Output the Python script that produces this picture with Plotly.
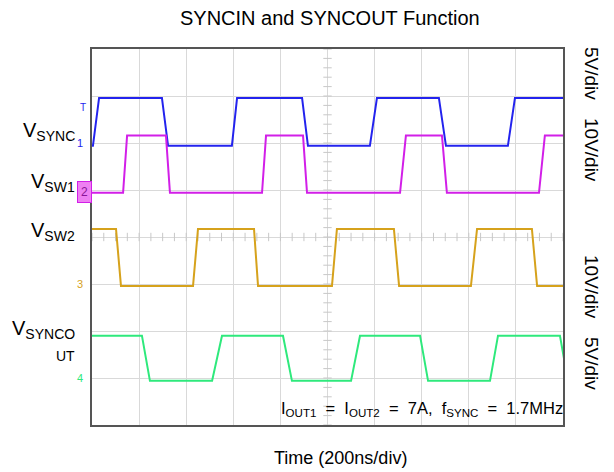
import numpy as np
import plotly.graph_objects as go

# time in ns (200 ns/div, 10 div), levels in volts
vsync_t = [0, 4, 30, 297, 323, 594, 616, 892, 917, 1180, 1210, 1473, 1503, 1766, 1796, 2000]
vsync_v = [-0.3, -0.3, 4.8, 4.8, -0.3, -0.3, 4.8, 4.8, -0.3, -0.3, 4.8, 4.8, -0.3, -0.3, 4.8, 4.8]

vsw1_t = [0, 132, 149, 314, 331, 722, 739, 896, 913, 1308, 1333, 1486, 1507, 1898, 1923, 2000]
vsw1_v = [-0.6, -0.6, 11.6, 11.6, -0.6, -0.6, 11.6, 11.6, -0.6, -0.6, 11.6, 11.6, -0.6, -0.6, 11.6, 11.6]

vsw2_t = [0, 102, 123, 429, 450, 688, 705, 1019, 1040, 1282, 1304, 1609, 1635, 1868, 1890, 2000]
vsw2_v = [11.7, 11.7, -0.4, -0.4, 11.7, 11.7, -0.4, -0.4, 11.7, 11.7, -0.4, -0.4, 11.7, 11.7, -0.4, -0.4]

vsyncout_t = [0, 212, 246, 510, 552, 811, 849, 1100, 1138, 1393, 1427, 1690, 1724, 1987, 2021]
vsyncout_v = [4.5, 4.5, -0.3, -0.3, 4.5, 4.5, -0.3, -0.3, 4.5, 4.5, -0.3, -0.3, 4.5, 4.5, -0.3]

# channel: (name, t, v, volts/div, ground position in div, colour)
channels = [
    ("1", vsync_t, vsync_v, 5, 6, "#2323ee"),
    ("2", vsw1_t, vsw1_v, 10, 5, "#d21fe8"),
    ("3", vsw2_t, vsw2_v, 10, 3, "#d6a21c"),
    ("4", vsyncout_t, vsyncout_v, 5, 1, "#2ee97c"),
]
trigger_t = 607
trigger_v = 2.45

FONT = "Liberation Sans, Arial, sans-serif"

# page body has an 8px margin, so the figure is laid out 8px smaller
OFF = 8
PX_L, PX_T, PX_W, PX_H = 92, 49, 471, 376


def px(xp, yp):
    # window pixel -> paper coords
    return (xp - PX_L) / PX_W, (PX_T + PX_H - yp) / PX_H


fig = go.Figure()

# centre graticule ticks
xt = np.arange(0, 2001, 50)
fig.add_trace(go.Scatter(x=xt, y=[4] * len(xt), mode="markers", hoverinfo="skip",
                         marker=dict(symbol="line-ns", size=6, line=dict(color="#c8c8c8", width=1))))
yt = np.arange(0, 8.01, 0.2)
fig.add_trace(go.Scatter(x=[1000] * len(yt), y=yt, mode="markers", hoverinfo="skip",
                         marker=dict(symbol="line-ew", size=6, line=dict(color="#c8c8c8", width=1))))

for name, t, v, vdiv, gnd, col in channels:
    y = [gnd + val / vdiv for val in v]
    fig.add_trace(go.Scatter(x=t, y=y, mode="lines", line=dict(color=col, width=2)))
    # ground arrow on the left edge
    fig.add_trace(go.Scatter(x=[-12], y=[gnd], mode="markers", cliponaxis=False,
                             marker=dict(symbol="triangle-right", size=7, color=col)))
    if name == "2":
        fig.add_annotation(x=0, y=gnd / 8 - 0.006, xref="paper", yref="paper", text="2",
                           showarrow=False, xanchor="right", yanchor="middle",
                           font=dict(family=FONT, size=12, color="#8a1598"),
                           bgcolor="#ee80f2", bordercolor=col, borderpad=3)
    else:
        fig.add_annotation(x=-0.014, y=gnd / 8, xref="paper", yref="paper", text=name,
                           showarrow=False, xanchor="right", yanchor="middle",
                           font=dict(family=FONT, size=11, color=col))

# trigger level and trigger position markers
fig.add_trace(go.Scatter(x=[-12], y=[6 + trigger_v / 5], mode="markers", cliponaxis=False,
                         marker=dict(symbol="triangle-right", size=7, color="#2323ee")))
fig.add_annotation(x=-0.008, y=6.76 / 8, xref="paper", yref="paper", text="T", showarrow=False,
                   xanchor="right", yanchor="middle", font=dict(family=FONT, size=10, color="#2323ee"))
fig.add_trace(go.Scatter(x=[trigger_t], y=[8.02], mode="markers", cliponaxis=False,
                         marker=dict(symbol="triangle-down", size=9, color="#1f6fe0")))
fig.add_trace(go.Scatter(x=[1000], y=[8.02], mode="markers", cliponaxis=False,
                         marker=dict(symbol="triangle-down-open", size=9, color="#1f6fe0")))

# labels
left_labels = [("V<sub>SYNC</sub>", 132), ("V<sub>SW1</sub>", 182), ("V<sub>SW2</sub>", 231),
               ("V<sub>SYNCO</sub>", 329)]
for txt, ypx in left_labels:
    ax, ay = px(77, ypx)
    fig.add_annotation(x=ax, y=ay, xref="paper", yref="paper", text=txt,
                       showarrow=False, xanchor="right", yanchor="middle",
                       font=dict(family=FONT, size=20, color="black"))
ax, ay = px(77, 356)
fig.add_annotation(x=ax, y=ay, xref="paper", yref="paper", text="UT",
                   showarrow=False, xanchor="right", yanchor="middle",
                   font=dict(family=FONT, size=14, color="black"))

right_labels = [("5V/div", 73), ("10V/div", 150), ("10V/div", 287), ("5V/div", 363)]
for txt, ypx in right_labels:
    ax, ay = px(592, ypx)
    fig.add_annotation(x=ax, y=ay, xref="paper", yref="paper", text=txt,
                       showarrow=False, textangle=90, xanchor="center", yanchor="middle",
                       font=dict(family=FONT, size=19, color="black"))

sp = "\u00a0"
ax, ay = px(565, 409)
fig.add_annotation(x=ax, y=ay, xref="paper", yref="paper",
                   text=f"I<sub>OUT1</sub>{sp}{sp}={sp}{sp}I<sub>OUT2</sub>{sp}{sp}={sp}{sp}7A,{sp}{sp}"
                        f"f<sub>SYNC</sub>{sp}{sp}={sp}{sp}1.7MHz",
                   showarrow=False, xanchor="right", yanchor="middle",
                   font=dict(family=FONT, size=16.5, color="black"))

ax, ay = px(330, 18)
fig.add_annotation(x=ax, y=ay, xref="paper", yref="paper",
                   text="SYNCIN and SYNCOUT Function", showarrow=False,
                   xanchor="center", yanchor="middle",
                   font=dict(family=FONT, size=20, color="black"))
ax, ay = px(340, 458)
fig.add_annotation(x=ax, y=ay, xref="paper", yref="paper",
                   text="Time (200ns/div)", showarrow=False,
                   xanchor="center", yanchor="middle",
                   font=dict(family=FONT, size=18, color="black"))

fig.update_xaxes(range=[0, 2000], dtick=200, showgrid=True, gridcolor="#d9d9d9", gridwidth=1,
                 showticklabels=False, ticks="", zeroline=False,
                 showline=True, mirror=True, linecolor="#555555", linewidth=1.5)
fig.update_yaxes(range=[0, 8], dtick=1, showgrid=True, gridcolor="#d9d9d9", gridwidth=1,
                 showticklabels=False, ticks="", zeroline=False,
                 showline=True, mirror=True, linecolor="#555555", linewidth=1.5)
fig.update_layout(width=614 - OFF, height=472 - OFF, showlegend=False,
                  margin=dict(l=PX_L - OFF, r=614 - PX_L - PX_W, t=PX_T - OFF, b=472 - PX_T - PX_H),
                  plot_bgcolor="white", paper_bgcolor="white")

fig.write_html("out.html")
